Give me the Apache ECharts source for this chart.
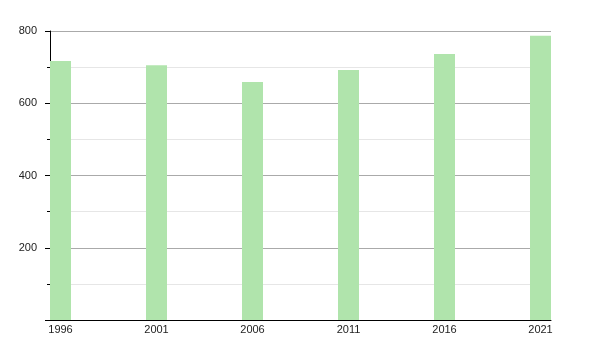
<!DOCTYPE html>
<html>
<head>
<meta charset="utf-8">
<script src="https://cdn.jsdelivr.net/npm/echarts@6/dist/echarts.min.js"></script>
<style>html,body{margin:0;padding:0;background:#fff}#c{width:600px;height:350px}</style>
</head>
<body>
<div id="c"></div>
<script>
var years = [1996, 2001, 2006, 2011, 2016, 2021];
var values = [717, 705, 659, 692, 736, 787];
var yLabels = [200, 400, 600, 800];

var chart = echarts.init(document.getElementById('c'), null, {renderer: 'canvas'});
chart.setOption({
  animation: false,
  backgroundColor: '#fff',
  grid: {left: 50, right: 49, top: 31, bottom: 30, containLabel: false},
  xAxis: {
    type: 'value',
    min: 1995.453,
    max: 2021.547,
    axisLine: {show: true, lineStyle: {color: '#000', width: 1}},
    axisTick: {show: false},
    splitLine: {show: false},
    axisLabel: {
      customValues: years,
      color: '#222',
      fontFamily: 'Liberation Sans, Arial, sans-serif',
      fontSize: 11,
      margin: 4,
      formatter: function (v) { return String(Math.round(v)); }
    }
  },
  yAxis: {
    type: 'value',
    min: 0,
    max: 800,
    interval: 200,
    axisLine: {show: true, lineStyle: {color: '#000', width: 1}},
    axisTick: {show: true, length: 5, lineStyle: {color: '#000'}},
    minorTick: {show: true, splitNumber: 2, length: 3, lineStyle: {color: '#000'}},
    splitLine: {show: true, lineStyle: {color: '#aaaaaa', width: 1}},
    minorSplitLine: {show: true, lineStyle: {color: '#e6e6e6', width: 1}},
    axisLabel: {
      color: '#222',
      fontFamily: 'Liberation Sans, Arial, sans-serif',
      fontSize: 11,
      margin: 13,
      formatter: function (v) { return yLabels.indexOf(v) >= 0 ? String(v) : ''; }
    }
  },
  series: [{
    type: 'bar',
    barWidth: 21,
    itemStyle: {color: '#b0e4ac'},
    data: years.map(function (y, i) { return [y, values[i]]; })
  }]
});
</script>
</body>
</html>
